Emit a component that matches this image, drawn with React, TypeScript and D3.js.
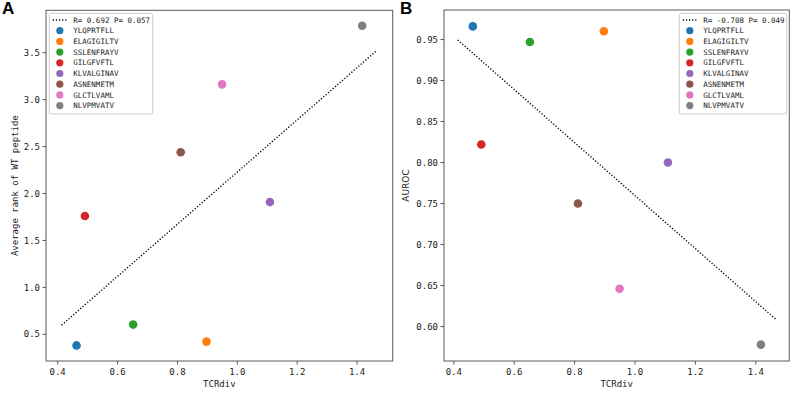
import React from "react";
import * as d3 from "d3";

const peptides = ["YLQPRTFLL", "ELAGIGILTV", "SSLENFRAYV", "GILGFVFTL", "KLVALGINAV", "ASNENMETM", "GLCTLVAML", "NLVPMVATV"];
const colors = ["#1f77b4", "#ff7f0e", "#2ca02c", "#d62728", "#9467bd", "#8c564b", "#e377c2", "#7f7f7f"];
const tcrdiv = [0.463, 0.897, 0.652, 0.491, 1.109, 0.811, 0.949, 1.417];
const avgRank = [0.382, 0.422, 0.604, 1.76, 1.909, 2.44, 3.163, 3.788];
const auroc = [0.966, 0.960, 0.947, 0.822, 0.80, 0.75, 0.646, 0.578];
const xTicks = [0.4, 0.6, 0.8, 1.0, 1.2, 1.4];
const rankTicks = [0.5, 1.0, 1.5, 2.0, 2.5, 3.0, 3.5];
const aurocTicks = [0.60, 0.65, 0.70, 0.75, 0.80, 0.85, 0.90, 0.95];
const statA = "R= 0.692 P= 0.057";
const statB = "R= -0.708 P= 0.049";

const MONO = "'DejaVu Sans Mono', monospace";
const SPINE = "#5a5a5a";

function regress(xs: number[], ys: number[]) {
  const mx = d3.mean(xs)!;
  const my = d3.mean(ys)!;
  let sxy = 0, sxx = 0;
  xs.forEach((x, i) => { sxy += (x - mx) * (ys[i] - my); sxx += (x - mx) ** 2; });
  const slope = sxy / sxx;
  return (x: number) => my + slope * (x - mx);
}

type PanelProps = {
  letter: string;
  left: number; right: number; top: number; bottom: number;
  xDomain: [number, number]; yDomain: [number, number];
  ys: number[]; yTicks: number[]; yFmt: string;
  yLabel: string; yLabelFont: string; yLabelX: number;
  stat: string; legendX: number; legendW: number;
};

function Panel(p: PanelProps) {
  const x = d3.scaleLinear().domain(p.xDomain).range([p.left, p.right]);
  const y = d3.scaleLinear().domain(p.yDomain).range([p.bottom, p.top]);
  const f = regress(tcrdiv, p.ys);
  const x0 = d3.min(tcrdiv)! - 0.05;
  const x1 = d3.max(tcrdiv)! + 0.05;
  const lineGen = d3.line<number>().x((d) => x(d)).y((d) => y(f(d)));
  const fmt = d3.format(p.yFmt);
  const rowH = 10.7;
  const ly0 = 20;
  return (
    <g>
      <text x={p.left - 44} y={14} fontFamily="'Liberation Sans', Arial, sans-serif" fontWeight="bold" fontSize={17}>{p.letter}</text>
      <rect x={p.left} y={p.top} width={p.right - p.left} height={p.bottom - p.top} fill="white" stroke={SPINE} strokeWidth={1} />
      {xTicks.map((t) => (
        <g key={"x" + t}>
          <line x1={x(t)} x2={x(t)} y1={p.bottom} y2={p.bottom + 3.5} stroke={SPINE} />
          <text x={x(t)} y={375} textAnchor="middle" fontFamily={MONO} fontSize={9} fill="#222">{t.toFixed(1)}</text>
        </g>
      ))}
      {p.yTicks.map((t) => (
        <g key={"y" + t}>
          <line x1={p.left - 3.5} x2={p.left} y1={y(t)} y2={y(t)} stroke={SPINE} />
          <text x={p.left - 6} y={y(t)} dy="0.35em" textAnchor="end" fontFamily={MONO} fontSize={9} fill="#222">{fmt(t)}</text>
        </g>
      ))}
      <text x={(p.left + p.right) / 2} y={387} textAnchor="middle" fontFamily={MONO} fontSize={9} fill="#222">TCRdiv</text>
      <text transform={`translate(${p.yLabelX},${(p.top + p.bottom) / 2}) rotate(-90)`} textAnchor="middle" dy="0.35em" fontFamily={p.yLabelFont} fontSize={9} fill="#222">{p.yLabel}</text>
      <path d={lineGen([x0, x1])!} stroke="black" strokeWidth={1.4} strokeDasharray="1.2,1.9" fill="none" />
      {tcrdiv.map((v, i) => (
        <circle key={"c" + i} cx={x(v)} cy={y(p.ys[i])} r={4.3} fill={colors[i]} />
      ))}
      <g>
        <rect x={p.legendX} y={13.3} width={p.legendW} height={100.7} rx={2} fill="white" fillOpacity={0.8} stroke="#cccccc" strokeWidth={1} />
        <line x1={p.legendX + 3.5} x2={p.legendX + 17.5} y1={ly0} y2={ly0} stroke="black" strokeWidth={1.4} strokeDasharray="1.2,1.9" />
        <text x={p.legendX + 24} y={ly0} dy="0.35em" fontFamily={MONO} fontSize={7.5} fill="#222">{p.stat}</text>
        {peptides.map((name, i) => (
          <g key={"l" + i}>
            <circle cx={p.legendX + 10.5} cy={ly0 + rowH * (i + 1)} r={3.6} fill={colors[i]} />
            <text x={p.legendX + 24} y={ly0 + rowH * (i + 1)} dy="0.35em" fontFamily={MONO} fontSize={7.5} fill="#222">{name}</text>
          </g>
        ))}
      </g>
    </g>
  );
}

export default function App() {
  return (
    <svg width={800} height={400} style={{ position: "absolute", left: 0, top: 0, background: "white" }}>
      <rect width={800} height={400} fill="white" />
      <Panel letter="A" left={46} right={392.7} top={10.3} bottom={361}
        xDomain={[0.361, 1.519]} yDomain={[0.216, 3.952]}
        ys={avgRank} yTicks={rankTicks} yFmt=".1f"
        yLabel="Average rank of WT peptide" yLabelFont={MONO} yLabelX={15}
        stat={statA} legendX={49.3} legendW={103.4} />
      <Panel letter="B" left={444} right={789.3} top={10} bottom={361}
        xDomain={[0.3675, 1.511]} yDomain={[0.558, 0.986]}
        ys={auroc} yTicks={aurocTicks} yFmt=".2f"
        yLabel="AUROC" yLabelFont="'DejaVu Sans', sans-serif" yLabelX={406}
        stat={statB} legendX={679.3} legendW={107.4} />
    </svg>
  );
}
